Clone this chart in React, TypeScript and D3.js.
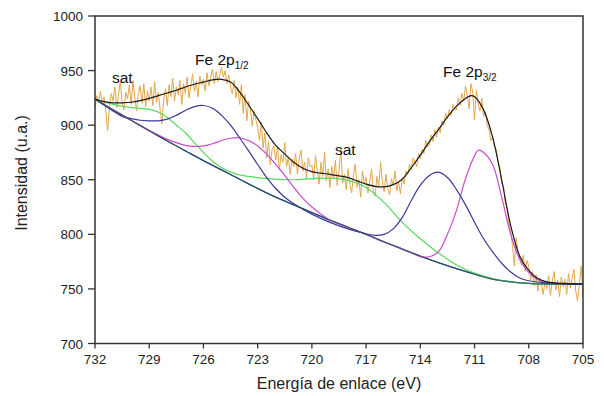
import React from "react";
import * as d3 from "d3";

const W = 604, H = 396;
const M = { left: 95, right: 583, top: 16, bottom: 343.5 };

const xTicks = [732, 729, 726, 723, 720, 717, 714, 711, 708, 705];
const yTicks = [700, 750, 800, 850, 900, 950, 1000];

// measured data (0.1 eV step from 732.0 down to 705.0)
const dataStart = 732.0;
const dataStep = 0.1;
const measured = [
  916, 927, 921, 931, 919, 926, 912, 895, 918, 929,
  922, 935, 916, 928, 940, 921, 914, 930, 924, 937,
  919, 941, 926, 913, 929, 936, 920, 938, 917, 931,
  922, 935, 918, 940, 921, 930, 915, 901, 924, 933,
  918, 937, 926, 943, 922, 935, 928, 941, 919, 938,
  929, 944, 925, 936, 947, 931, 940, 926, 945, 937,
  942, 931, 948, 936, 944, 951, 938, 949, 940, 946,
  953, 944, 950, 938, 946, 934, 929, 941, 925, 935,
  919, 937, 911, 928, 904, 922, 915, 899, 913, 905,
  898, 886, 903, 879, 893, 870, 885, 864, 878, 881,
  868, 880, 859, 873, 866, 884, 862, 871, 855, 869,
  862, 874, 855, 869, 877, 858, 866, 851, 870, 862,
  863, 850, 872, 858, 846, 866, 853, 875, 849, 860,
  843, 862, 851, 868, 845, 858, 879, 847, 855, 841,
  860, 846, 838, 855, 864, 843, 850, 834, 858, 846,
  852, 838, 849, 860, 841, 835, 853, 844, 866, 848,
  839, 855, 842, 836, 851, 845, 858, 840, 848, 837,
  852, 846, 858, 855, 864, 859, 870, 866, 862, 874,
  869, 878, 874, 886, 880, 882, 891, 885, 896, 889,
  898, 893, 904, 900, 911, 906, 914, 909, 919, 915,
  914, 925, 918, 929, 922, 936, 927, 915, 938, 930,
  905, 932, 920, 913, 925, 908, 912, 900, 896, 886,
  889, 880, 878, 866, 862, 846, 845, 828, 824, 810,
  803, 790, 771, 797, 784, 779, 772, 781, 766, 776,
  771, 758, 766, 753, 763, 748, 760, 755, 745, 757,
  750, 762, 744, 757, 766, 749, 758, 743, 761, 752,
  759, 745, 764, 751, 760, 768, 748, 739, 754, 771,
  741,
];

const background: [number, number][] = [
  [732, 924], [731, 914], [730, 904.5], [729, 895], [728, 885.5], [727, 876.5],
  [726, 867.5], [725, 859], [724, 850.5], [723, 842], [722, 834], [721, 827],
  [720, 820], [719, 813], [718, 806.5], [717, 800], [716, 793], [715, 786.5],
  [714, 780], [713, 774], [712, 768.5], [711, 763.5], [710, 759], [709, 756.5],
  [708, 755], [707, 754.5], [706, 754.5], [705, 754.5],
];

const satelliteFit: [number, number][] = [
  [732, 924], [731, 919], [730, 916], [729, 914.5], [728.5, 912], [728, 907],
  [727.5, 900], [727, 893], [726.5, 884], [726, 875], [725.5, 867], [725, 861],
  [724.5, 857], [724, 854.5], [723, 852], [722, 850.5], [721, 850], [720, 851],
  [719, 851.5], [718, 849.5], [717, 843], [716, 829], [715, 811], [714, 796],
  [713, 783], [712, 772], [711, 764.5], [710, 759.5], [709, 756.5], [708, 755],
  [707, 754.5], [705, 754.5],
];

const peakAFit: [number, number][] = [
  [732, 924], [731, 913], [730.5, 908], [730, 906], [729.5, 904.5], [729, 904],
  [728.5, 904], [728, 905.5], [727.5, 909], [727, 913.5], [726.5, 917], [726, 918],
  [725.5, 915.5], [725, 909], [724.5, 900], [724, 888.5], [723.5, 876.5], [723, 864],
  [722.5, 852], [722, 842], [721.5, 834], [721, 828], [720, 818.5], [719, 811],
  [718, 805], [717, 800.5], [716.5, 799], [716, 800], [715.5, 805], [715, 815.5],
  [714.5, 831], [714, 845], [713.5, 854], [713, 857], [712.5, 852], [712, 841],
  [711.5, 827], [711, 811], [710.5, 796], [710, 784], [709.5, 773.5], [709, 765.5],
  [708.5, 760], [708, 757.5], [707, 755.5], [706, 754.5], [705, 754.5],
];

const peakBFit: [number, number][] = [
  [732, 924], [731, 914], [730, 904.5], [729.5, 899.5], [729, 895], [728.5, 891],
  [728, 887], [727.5, 884], [727, 881.5], [726.5, 880.5], [726, 881], [725.5, 883],
  [725, 886], [724.5, 888], [724, 888.5], [723.5, 886], [723, 881], [722.5, 873.5],
  [722, 864], [721.5, 854], [721, 843], [720.5, 833], [720, 825], [719.5, 818.5],
  [719, 813], [718, 806.5], [717, 800], [716, 793], [715, 786.5], [714.5, 783],
  [714, 779.5], [713.5, 779.5], [713, 784], [712.5, 800], [712, 822], [711.5, 851],
  [711, 872], [710.8, 877], [710.5, 875], [710, 864], [709.5, 834], [709, 800],
  [708.5, 777], [708, 765], [707.5, 758.5], [707, 756], [706, 754.5], [705, 754.5],
];

const envelope: [number, number][] = [
  [732, 924], [731.5, 921.5], [731, 920.5], [730.5, 920.5], [730, 921], [729.5, 922.5],
  [729, 924.5], [728.5, 927], [728, 929.5], [727.5, 932], [727, 935], [726.5, 937.5],
  [726, 939.5], [725.5, 941.5], [725, 942], [724.5, 939.5], [724, 930.5], [723.5, 918.5],
  [723, 906], [722.5, 893], [722, 881.5], [721.5, 873.5], [721, 866], [720.5, 860.5],
  [720, 857.5], [719.5, 856], [719, 855], [718.5, 853.5], [718, 852], [717.5, 849],
  [717, 846], [716.5, 844], [716, 843.5], [715.5, 845.5], [715, 850.5], [714.5, 861],
  [714, 872.5], [713.5, 885], [713, 896], [712.5, 907.5], [712, 917.5], [711.5, 924.5],
  [711.2, 927], [711, 926], [710.5, 914], [710, 889], [709.5, 850], [709, 808],
  [708.5, 780], [708, 767], [707.5, 759.5], [707, 756.5], [706, 755], [705, 754.5],
];

const COLORS = {
  data: "#e3a64a",
  envelope: "#1a1a1a",
  background: "#1f5e5a",
  backgroundBlue: "#2b2b8c",
  satellite: "#5ad85a",
  peakA: "#3a3a9c",
  peakB: "#cc48cc",
  axis: "#333333",
};

export default function App() {
  const x = d3.scaleLinear().domain([732, 705]).range([M.left, M.right]);
  const y = d3.scaleLinear().domain([700, 1000]).range([M.bottom, M.top]);

  const smooth = d3
    .line<[number, number]>()
    .x((d) => x(d[0]))
    .y((d) => y(d[1]))
    .curve(d3.curveCatmullRom.alpha(0.5));

  const dataPts: [number, number][] = measured.map((v, i) => [dataStart - i * dataStep, v]);
  const raw = d3
    .line<[number, number]>()
    .x((d) => x(d[0]))
    .y((d) => y(d[1]));

  const font = "'Liberation Sans', Arial, sans-serif";

  return (
    <svg
      width={W}
      height={H}
      style={{ position: "absolute", left: 0, top: 0, background: "#fff" }}
      fontFamily={font}
    >
      <defs>
        <clipPath id="plot">
          <rect x={M.left} y={M.top} width={M.right - M.left} height={M.bottom - M.top} />
        </clipPath>
      </defs>
      <g clipPath="url(#plot)" fill="none">
        <path d={raw(dataPts) || ""} stroke={COLORS.data} strokeWidth={1} />
        <path d={smooth(background) || ""} stroke={COLORS.backgroundBlue} strokeWidth={1.3} />
        <path d={smooth(satelliteFit) || ""} stroke={COLORS.satellite} strokeWidth={1.2} />
        <path d={smooth(peakBFit) || ""} stroke={COLORS.peakB} strokeWidth={1.2} />
        <path d={smooth(peakAFit) || ""} stroke={COLORS.peakA} strokeWidth={1.2} />
        <path d={smooth(background) || ""} stroke={COLORS.background} strokeWidth={0.9} />
        <path d={smooth(envelope) || ""} stroke={COLORS.envelope} strokeWidth={1.2} />
      </g>

      {/* frame */}
      <rect
        x={M.left}
        y={M.top}
        width={M.right - M.left}
        height={M.bottom - M.top}
        fill="none"
        stroke={COLORS.axis}
        strokeWidth={1.5}
      />

      {/* x axis ticks */}
      {xTicks.map((t) => (
        <g key={"x" + t}>
          <line x1={x(t)} x2={x(t)} y1={M.bottom} y2={M.bottom + 5} stroke={COLORS.axis} strokeWidth={1.3} />
          <text x={x(t)} y={M.bottom + 20} textAnchor="middle" fontSize={13.5} fill="#222">
            {t}
          </text>
        </g>
      ))}
      {/* y axis ticks */}
      {yTicks.map((t) => (
        <g key={"y" + t}>
          <line x1={M.left - 7} x2={M.left} y1={y(t)} y2={y(t)} stroke={COLORS.axis} strokeWidth={1.3} />
          <text x={M.left - 12} y={y(t) + 5} textAnchor="end" fontSize={13.5} fill="#222">
            {t}
          </text>
        </g>
      ))}

      <text x={(M.left + M.right) / 2} y={389} textAnchor="middle" fontSize={16} fill="#222">
        Energía de enlace (eV)
      </text>
      <text
        transform={`translate(27, 173) rotate(-90)`}
        textAnchor="middle"
        fontSize={16}
        fill="#222"
      >
        Intensidad (u.a.)
      </text>

      {/* annotations */}
      <text x={112} y={83} fontSize={15.5} fill="#111">sat</text>
      <text x={335} y={155} fontSize={15.5} fill="#111">sat</text>
      <text x={195} y={65} fontSize={15.5} fill="#111">
        Fe 2p<tspan fontSize={10} dy={4}>1/2</tspan>
      </text>
      <text x={443} y={77} fontSize={15.5} fill="#111">
        Fe 2p<tspan fontSize={10} dy={4}>3/2</tspan>
      </text>
    </svg>
  );
}
